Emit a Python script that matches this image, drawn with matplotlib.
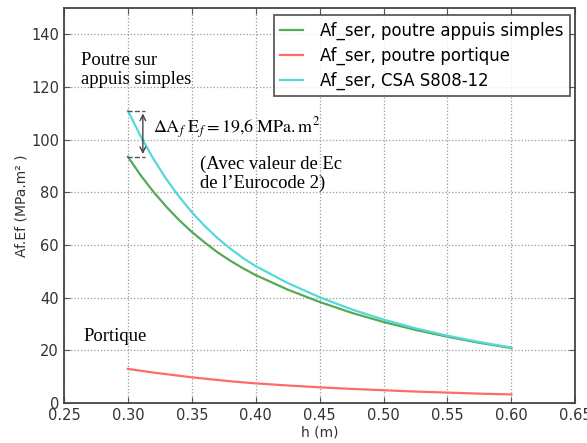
import matplotlib
matplotlib.use("Agg")
import matplotlib.pyplot as plt

# =====================
# DATA
# =====================
h = [0.30, 0.31, 0.32, 0.33, 0.34, 0.35, 0.36, 0.37, 0.38, 0.39, 0.40,
     0.425, 0.45, 0.475, 0.50, 0.525, 0.55, 0.575, 0.60]
af_appuis = [93.5, 86.5, 80.2, 74.6, 69.5, 65.0, 61.0, 57.3, 54.1, 51.2, 48.6,
             43.1, 38.4, 34.3, 30.8, 27.8, 25.2, 22.9, 20.9]
af_portique = [13.0, 12.3, 11.6, 11.0, 10.4, 9.8, 9.3, 8.8, 8.3, 7.9, 7.5,
               6.7, 6.0, 5.4, 4.9, 4.4, 4.0, 3.6, 3.3]
af_csa = [111.0, 101.3, 92.7, 85.1, 78.4, 72.5, 67.3, 62.7, 58.7, 55.1, 52.0,
          45.6, 40.2, 35.6, 31.7, 28.4, 25.6, 23.2, 21.1]

labels = ["Af_ser, poutre appuis simples",
          "Af_ser, poutre portique",
          "Af_ser, CSA S808-12"]
colors = ["#55aa55", "#ff6b6b", "#55d8d8"]

xticks = [0.25, 0.30, 0.35, 0.40, 0.45, 0.50, 0.55, 0.60, 0.65]
yticks = [0, 20, 40, 60, 80, 100, 120, 140]

plt.rcParams["mathtext.fontset"] = "stix"

# =====================
# PLOT
# =====================
fig = plt.figure(figsize=(5.87, 4.43), dpi=100)
ax = fig.add_axes([0.109, 0.090, 0.871, 0.892])

ax.plot(h, af_appuis, color=colors[0], lw=1.6, label=labels[0])
ax.plot(h, af_portique, color=colors[1], lw=1.6, label=labels[1])
ax.plot(h, af_csa, color=colors[2], lw=1.6, label=labels[2])

ax.set_xlim(0.25, 0.65)
ax.set_ylim(0, 150)
ax.set_xticks(xticks)
ax.set_xticklabels(["%.2f" % v for v in xticks])
ax.set_yticks(yticks)
ax.grid(True, linestyle=":", color="#999999", lw=0.9)
ax.tick_params(direction="in", top=True, right=True, length=4,
               labelsize=10.5, labelcolor="#333333", color="#555555")
for s in ax.spines.values():
    s.set_color("#444444")
    s.set_linewidth(1.3)

ax.set_xlabel("h (m)", fontsize=10, color="#333333", labelpad=2)
ax.set_ylabel("Af.Ef (MPa.m\u00b2 )", fontsize=10, color="#333333", labelpad=2)

leg = ax.legend(loc="upper right", fontsize=11.9, frameon=True, fancybox=False,
                borderpad=0.4, labelspacing=0.4, handlelength=1.4,
                handletextpad=1.0, borderaxespad=0.2,
                bbox_to_anchor=(0.996, 0.99))
leg.get_frame().set_edgecolor("#333333")
leg.get_frame().set_linewidth(1.3)

# annotation: difference between the two beams at h = 0.30
serif = "Liberation Serif"
ax.plot([0.299, 0.313], [af_csa[0], af_csa[0]], ls="--", color="#555555", lw=1)
ax.plot([0.299, 0.313], [af_appuis[0], af_appuis[0]], ls="--", color="#555555", lw=1)
ax.annotate("", xy=(0.3117, af_csa[0]), xytext=(0.3117, af_appuis[0]),
            arrowprops=dict(arrowstyle="<->", color="#444444", lw=1))
ax.text(0.3195, 104.5, r"$\Delta\mathrm{A}_f\ \mathrm{E}_f = 19{,}6\ \mathrm{MPa.m}^2$",
        fontsize=13, va="center")
ax.text(0.3563, 87.1, "(Avec valeur de Ec\nde l\u2019Eurocode 2)", family=serif,
        fontsize=13.4, va="center", linespacing=1.1)
ax.text(0.2633, 126.6, "Poutre sur\nappuis simples", family=serif,
        fontsize=13.4, va="center", linespacing=1.15)
ax.text(0.2656, 25.3, "Portique", family=serif, fontsize=13.4, va="center")

fig.savefig("out.png", dpi=100)
